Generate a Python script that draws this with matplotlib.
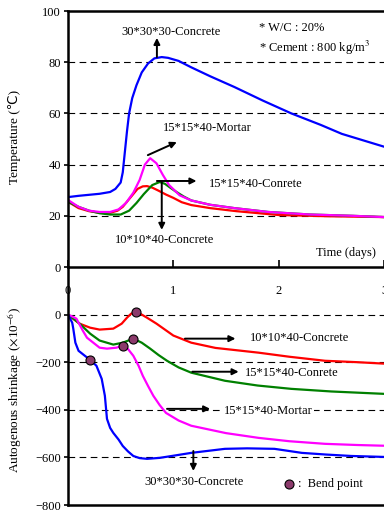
import matplotlib
matplotlib.use("Agg")
import matplotlib.pyplot as plt

plt.rcParams['font.family'] = ['Liberation Serif', 'DejaVu Sans']
plt.rcParams['mathtext.fontset'] = 'stix'

# ---------------- data: temperature ----------------
t_blue_T = [0, 0.1, 0.2, 0.3, 0.4, 0.45, 0.5, 0.52, 0.54, 0.56, 0.58, 0.61, 0.65, 0.7, 0.76, 0.82, 0.89,
            0.95, 1.05, 1.17, 1.35, 1.58, 1.85, 2.12, 2.4, 2.6, 2.8, 3.0]
v_blue_T = [27.3, 27.8, 28.2, 28.6, 29.3, 30.5, 33, 37, 45, 53, 60, 66, 71, 76, 79.5, 81.5, 82,
            81.7, 80.5, 78, 74.5, 70.3, 65, 60, 55.5, 52, 49.5, 47]

t_mag_T = [0, 0.1, 0.2, 0.3, 0.4, 0.48, 0.55, 0.62, 0.68, 0.73, 0.78, 0.84, 0.9, 0.96, 1.06, 1.17,
           1.35, 1.58, 1.9, 2.3, 2.7, 3.0]
v_mag_T = [26.2, 23.5, 22, 21.5, 21.5, 22.5, 25, 29, 34, 40, 42.5, 40.5, 36, 32, 28, 26,
           24.3, 23, 21.5, 20.5, 20, 19.5]

t_grn_T = [0, 0.1, 0.2, 0.3, 0.4, 0.5, 0.58, 0.65, 0.72, 0.8, 0.87, 0.92, 0.97, 1.03, 1.1, 1.17,
           1.35, 1.58, 1.9, 2.3, 2.7, 3.0]
v_grn_T = [25.5, 23.5, 22, 21, 20.5, 20.5, 22, 25, 28.5, 32, 33.2, 32.5, 31, 29.3, 27.5, 26,
           24.3, 23, 21.5, 20.5, 20, 19.5]

t_red_T = [0, 0.1, 0.2, 0.3, 0.4, 0.47, 0.52, 0.59, 0.66, 0.71, 0.75, 0.8, 0.86, 0.93, 1.0, 1.08,
           1.17, 1.35, 1.6, 2.0, 2.5, 3.0]
v_red_T = [25.5, 23, 21.8, 21.2, 21.2, 22, 23.5, 27, 30.5, 31.5, 31.6, 31, 29.8, 28.3, 27, 25.3,
           24.2, 23, 21.8, 20.3, 19.8, 19.5]

# ---------------- data: autogenous shrinkage ----------------
t_red_S = [0, 0.05, 0.11, 0.21, 0.3, 0.43, 0.51, 0.56, 0.6, 0.65, 0.75, 0.84, 1.0, 1.17, 1.4,
           1.81, 2.1, 2.44, 2.75, 3.0]
v_red_S = [0, -18, -38, -55, -63, -59, -38, -13, 4, 13, -13, -38, -88, -118, -140,
           -160, -177, -194, -200, -206]

t_grn_S = [0, 0.04, 0.11, 0.21, 0.3, 0.43, 0.52, 0.62, 0.7, 0.78, 0.86, 0.94, 1.05, 1.17, 1.49,
           1.8, 2.12, 2.5, 3.0]
v_grn_S = [0, -13, -38, -80, -109, -126, -118, -101, -118, -143, -170, -194, -222, -244, -278,
           -298, -312, -323, -333]

t_mag_S = [0, 0.05, 0.08, 0.14, 0.18, 0.3, 0.37, 0.46, 0.52, 0.57, 0.62, 0.67, 0.71, 0.76, 0.81,
           0.87, 0.93, 1.05, 1.17, 1.5, 1.81, 2.1, 2.44, 2.75, 3.0]
v_mag_S = [0, -10, -17, -67, -97, -139, -143, -139, -130, -145, -173, -215, -257, -300, -341,
           -380, -413, -445, -467, -498, -518, -532, -543, -548, -551]

t_blu_S = [0, 0.04, 0.05, 0.07, 0.1, 0.16, 0.21, 0.27, 0.32, 0.35, 0.37, 0.4, 0.43, 0.48, 0.52,
           0.57, 0.62, 0.68, 0.75, 0.87, 1.0, 1.17, 1.49, 1.7, 1.96, 2.22, 2.45, 2.69, 3.0]
v_blu_S = [0, -34, -59, -118, -152, -173, -190, -215, -270, -341, -438, -476, -497, -525, -552,
           -575, -594, -603, -606, -602, -593, -581, -564, -562, -564, -581, -588, -594, -598]

bend_t = [0.65, 0.62, 0.52, 0.21]
bend_v = [13, -101, -130, -190]

temp_yticks = [0, 20, 40, 60, 80, 100]
shr_yticks = [-800, -600, -400, -200, 0]
x_ticks = [0, 1, 2, 3]

# ---------------- figure ----------------
fig = plt.figure(figsize=(3.84, 5.16), dpi=100)
L, R = 68 / 384, 1.0
ymid = 1 - 267 / 516
ax1 = fig.add_axes([L, ymid, R - L, (1 - 11 / 516) - ymid])
ax2 = fig.add_axes([L, 11 / 516, R - L, ymid - 11 / 516])
ax2.patch.set_visible(False)
ax1.set_zorder(3)
ax1.patch.set_visible(False)

BLUE, RED, GREEN, MAG = '#0000FF', '#FF0000', '#008000', '#FF00FF'
lw = 1.6
fs = 9

# top panel
ax1.plot(t_blue_T, v_blue_T, color=BLUE, lw=lw)
ax1.plot(t_red_T, v_red_T, color=RED, lw=lw)
ax1.plot(t_grn_T, v_grn_T, color=GREEN, lw=lw)
ax1.plot(t_mag_T, v_mag_T, color=MAG, lw=lw)
ax1.set_xlim(0, 3)
ax1.set_ylim(0, 100)
ax1.set_yticks(temp_yticks)
ax1.set_xticks(x_ticks)
for y in temp_yticks[1:-1]:
    ax1.axhline(y, color='black', lw=0.8, ls=(0, (6, 4)), zorder=0)
ax1.tick_params(axis='y', direction='out', length=3, width=1.2, labelsize=fs, pad=2)
ax1.tick_params(axis='x', direction='in', length=5, width=1.2, labelsize=fs, pad=13)
for s in ['left', 'top', 'bottom']:
    ax1.spines[s].set_linewidth(1.8)
ax1.spines['right'].set_visible(False)

arr = dict(arrowstyle='-|>', color='black', lw=1.4, mutation_scale=9, shrinkA=0, shrinkB=0)
ax1.text(0.976, 91.8, '30*30*30-Concrete', fontsize=fs, ha='center', va='center')
ax1.annotate('', xy=(0.844, 89.5), xytext=(0.844, 82), arrowprops=arr)
ax1.text(1.81, 93.4, '* W/C : 20%', fontsize=fs, ha='left', va='center')
ax1.text(1.81, 85.5, '* Cement : 800 kg/m$^3$', fontsize=fs, ha='left', va='center')
ax1.text(0.90, 54.3, '15*15*40-Mortar', fontsize=fs, ha='left', va='center')
ax1.annotate('', xy=(1.033, 48.8), xytext=(0.758, 43.7), arrowprops=arr)
ax1.text(1.336, 32.4, '15*15*40-Conrete', fontsize=fs, ha='left', va='center')
ax1.annotate('', xy=(1.22, 33.6), xytext=(0.844, 33.6), arrowprops=arr)
ax1.text(0.92, 10.5, '10*10*40-Concrete', fontsize=fs, ha='center', va='center')
ax1.annotate('', xy=(0.89, 14.5), xytext=(0.89, 33.2), arrowprops=arr)
ax1.text(2.635, 5.5, 'Time (days)', fontsize=fs, ha='center', va='center')

# bottom panel
ax2.plot(t_red_S, v_red_S, color=RED, lw=lw)
ax2.plot(t_grn_S, v_grn_S, color=GREEN, lw=lw)
ax2.plot(t_mag_S, v_mag_S, color=MAG, lw=lw)
ax2.plot(t_blu_S, v_blu_S, color=BLUE, lw=lw)
ax2.plot(bend_t, bend_v, ls='none', marker='o', ms=6.5, mfc='#8B3A6B', mec='black', mew=0.8, zorder=5)
ax2.set_xlim(0, 3)
ax2.set_ylim(-800, 200)
ax2.set_yticks(shr_yticks)
ax2.set_xticks([])
for y in shr_yticks[1:]:
    ax2.axhline(y, color='black', lw=0.8, ls=(0, (6, 4)), zorder=0)
ax2.tick_params(axis='y', direction='out', length=3, width=1.2, labelsize=fs, pad=2)
for s in ['left', 'bottom']:
    ax2.spines[s].set_linewidth(1.8)
ax2.spines['right'].set_visible(False)
ax2.spines['top'].set_visible(False)

ax2.text(1.725, -97, '10*10*40-Concrete', fontsize=fs, ha='left', va='center')
ax2.annotate('', xy=(1.59, -101), xytext=(1.11, -101), arrowprops=arr)
ax2.text(1.68, -244, '15*15*40-Conrete', fontsize=fs, ha='left', va='center')
ax2.annotate('', xy=(1.62, -240), xytext=(1.18, -240), arrowprops=arr)
ax2.text(1.48, -404, '15*15*40-Mortar', fontsize=fs, ha='left', va='center',
         bbox=dict(facecolor='white', edgecolor='none', pad=1))
ax2.annotate('', xy=(1.35, -396), xytext=(0.94, -396), arrowprops=arr)
ax2.text(1.2, -703, '30*30*30-Concrete', fontsize=fs, ha='center', va='center')
ax2.annotate('', xy=(1.19, -657), xytext=(1.19, -573), arrowprops=arr)
ax2.plot([2.10], [-712], ls='none', marker='o', ms=6.5, mfc='#8B3A6B', mec='black', mew=0.8)
ax2.text(2.18, -712, ':  Bend point', fontsize=fs, ha='left', va='center')

fig.text(15 / 384, 1 - 137 / 516, 'Temperature (\u2103)', rotation=90, ha='center', va='center',
         fontsize=9.5)
fig.text(15 / 384, 1 - 390 / 516, r'Autogenous shrinkage ($\times$10$^{-6}$)', rotation=90,
         ha='center', va='center', fontsize=9.5)

fig.savefig('out.png', dpi=100)
